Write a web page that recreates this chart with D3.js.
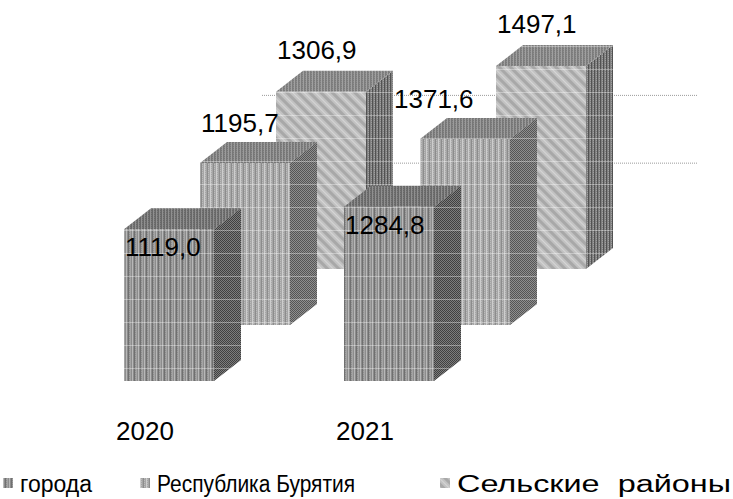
<!DOCTYPE html>
<html>
<head>
<meta charset="utf-8">
<script src="https://cdn.jsdelivr.net/npm/d3@7"></script>
<style>
  html, body { margin: 0; padding: 0; background: #fff; }
  svg { display: block; font-family: "Liberation Sans", Arial, sans-serif; }
</style>
</head>
<body>
<svg id="chart" width="733" height="499"></svg>
<script>
// ---- data ----
const years = ["2020", "2021"];
const series = ["города", "Республика Бурятия", "Сельские  районы"];
const valuesCities = [1119.0, 1284.8];
const valuesRepublic = [1195.7, 1371.6];
const valuesRural = [1306.9, 1497.1];
const gridValues = [500, 1000];

const seriesValues = [valuesCities, valuesRepublic, valuesRural];

// ---- layout ----
const svg = d3.select("#chart");
const floorY = 381;          // base line of the front row
const barW = 90;             // front face width
const depthX = 27, depthY = -21;   // bar depth (side / top faces)
const rowX = 76, rowY = -56;       // shift between series rows
const wallRows = 2.68;             // back wall position in rows

const x = d3.scalePoint().domain(years).range([124, 344]);
const h = d3.scaleLinear().domain([0, 1500]).range([0, 203.3]);
const row = d3.scaleLinear().domain([0, 1]).range([0, 1]);

const fmt = v => d3.format(".1f")(v).replace(".", ",");

// ---- textures ----
const defs = svg.append("defs");

function stripes(id, w, hgt, base, lines) {
  const p = defs.append("pattern").attr("id", id)
    .attr("patternUnits", "userSpaceOnUse").attr("width", w).attr("height", hgt);
  p.append("rect").attr("width", w).attr("height", hgt).attr("fill", base);
  lines.forEach(l => p.append("rect").attr("x", l[0]).attr("y", l[1])
    .attr("width", l[2]).attr("height", l[3]).attr("fill", l[4]));
  return p;
}

// города
stripes("cityFront", 6, 2, "#8c8c8c", [[0,0,1,2,"#b8b8b8"],[2,0,1,2,"#707070"],[4,0,1,2,"#a4a4a4"],[3,1,1,1,"#a0a0a0"]]);
stripes("cityTop", 3, 2, "#686868", [[0,0,1,2,"#909090"],[1,1,1,1,"#7a7a7a"]]);
stripes("citySide", 2, 2, "#7c7c7c", [[0,0,1,1,"#404040"],[1,1,1,1,"#404040"]]);
// Республика Бурятия
stripes("repFront", 6, 2, "#a6a6a6", [[0,0,1,2,"#cdcdcd"],[3,0,1,2,"#8c8c8c"],[1,1,1,1,"#bcbcbc"],[4,0,1,1,"#bcbcbc"]]);
stripes("repTop", 3, 2, "#777", [[0,0,1,2,"#9c9c9c"],[2,1,1,1,"#8a8a8a"]]);
stripes("repSide", 2, 2, "#8e8e8e", [[0,0,1,1,"#555"],[1,1,1,1,"#555"]]);
// Сельские районы
stripes("ruralFront", 8, 8, "#c2c2c2", [[0,0,3,8,"#a8a8a8"],[5,0,1,8,"#d6d6d6"]])
  .attr("patternTransform", "rotate(-45)");
stripes("ruralTop", 3, 2, "#7c7c7c", [[0,0,1,2,"#a0a0a0"],[2,1,1,1,"#8c8c8c"]]);
stripes("ruralSide", 3, 2, "#808080", [[0,0,1,2,"#525252"],[2,0,1,1,"#a0a0a0"]]);

// faint horizontal banding laid over the faces
const band = defs.append("pattern").attr("id", "band")
  .attr("patternUnits", "userSpaceOnUse").attr("width", 4).attr("height", 23);
band.append("rect").attr("y", 0).attr("width", 4).attr("height", 1)
  .attr("fill", "#fff").attr("opacity", 0.35);

const faces = [
  { front: "cityFront", top: "cityTop", side: "citySide" },
  { front: "repFront", top: "repTop", side: "repSide" },
  { front: "ruralFront", top: "ruralTop", side: "ruralSide" }
];

// ---- back wall gridlines ----
const wallBase = floorY + rowY * wallRows;
svg.append("g").selectAll("line").data(gridValues).join("line")
  .attr("x1", 262).attr("x2", 698)
  .attr("y1", d => wallBase - h(d)).attr("y2", d => wallBase - h(d))
  .attr("stroke", "#9a9a9a").attr("stroke-width", 1)
  .attr("stroke-dasharray", "1,1");

// ---- bars, back row first ----
const bars = [];
for (let s = series.length - 1; s >= 0; s--) {
  years.forEach((yr, j) => {
    const left = x(yr) + row(s) * rowX;
    const base = floorY + row(s) * rowY;
    const top = base - h(seriesValues[s][j]);
    bars.push({ s, j, yr, left, base, top, v: seriesValues[s][j] });
  });
}

const gBars = svg.append("g");
bars.forEach(b => {
  const g = gBars.append("g");
  const r = b.left + barW;
  const frontPts = [[b.left, b.top], [r, b.top], [r, b.base], [b.left, b.base]];
  const sidePts = [[r, b.top], [r + depthX, b.top + depthY], [r + depthX, b.base + depthY], [r, b.base]];
  const topPts = [[b.left, b.top], [b.left + depthX, b.top + depthY], [r + depthX, b.top + depthY], [r, b.top]];
  const f = faces[b.s];
  [[sidePts, f.side], [topPts, f.top], [frontPts, f.front]].forEach(([pts, pat]) => {
    g.append("polygon").attr("points", pts.join(" ")).attr("fill", `url(#${pat})`);
    g.append("polygon").attr("points", pts.join(" ")).attr("fill", "url(#band)");
  });
});

// ---- value labels ----
const labelDy = [27, -31, -33];
const labelNudge = { "1-1": -27 };
svg.append("g").selectAll("text").data(bars).join("text")
  .attr("x", b => b.left + 1 + (labelNudge[`${b.s}-${b.j}`] || 0))
  .attr("y", b => b.top + labelDy[b.s])
  .attr("font-size", 26).attr("fill", "#000")
  .text(b => fmt(b.v));

// ---- category labels ----
svg.append("g").selectAll("text").data(years).join("text")
  .attr("x", d => x(d) + barW / 2 - 24)
  .attr("y", 440).attr("text-anchor", "middle")
  .attr("font-size", 26).attr("fill", "#000")
  .text(d => d);

// ---- legend ----
const legendX = [3, 140, 440];
const legendLen = [72, 198, 274];
const legend = svg.append("g").selectAll("g").data(series).join("g")
  .attr("transform", (d, i) => `translate(${legendX[i]},0)`);
legend.append("rect").attr("x", 0).attr("y", 478).attr("width", 10).attr("height", 10)
  .attr("fill", (d, i) => `url(#${faces[i].front})`);
legend.append("text").attr("x", 17).attr("y", 492)
  .attr("font-size", 23).attr("fill", "#000")
  .style("white-space", "pre")
  .attr("textLength", (d, i) => legendLen[i])
  .attr("lengthAdjust", "spacingAndGlyphs")
  .text(d => d);
</script>
</body>
</html>
